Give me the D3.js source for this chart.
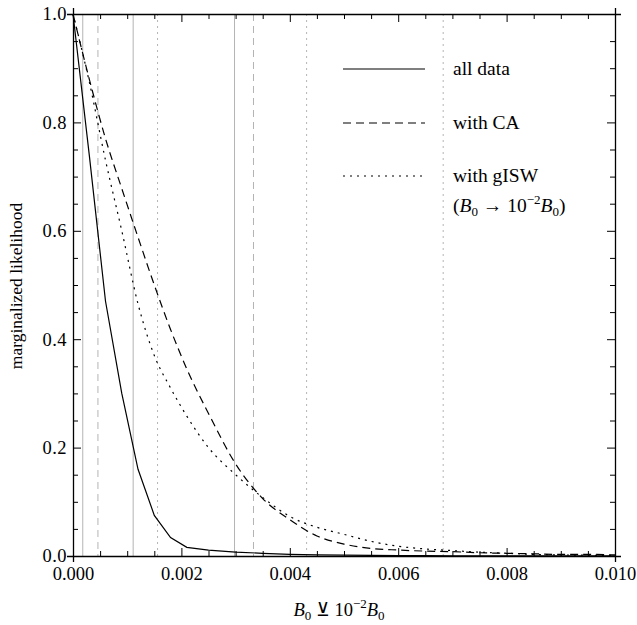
<!DOCTYPE html>
<html>
<head>
<meta charset="utf-8">
<script src="https://cdn.jsdelivr.net/npm/d3@7"></script>
<style>
  body { margin: 0; background: #fff; }
  text { font-family: "Liberation Serif", "Times New Roman", serif; fill: #000; }
</style>
</head>
<body>
<div id="chart"></div>
<script>
// Chart size and plot area
var svgWidth = 637;
var svgHeight = 625;
var margin = {top: 14, right: 22, bottom: 69, left: 73};
var width = svgWidth - margin.left - margin.right;
var height = svgHeight - margin.top - margin.bottom;

// Data
var xs        = [0, 0.0003, 0.0006, 0.0009, 0.0012, 0.0015, 0.0018, 0.0021, 0.0025, 0.003, 0.0035, 0.004,
                 0.0045, 0.005, 0.0055, 0.006, 0.0065, 0.007, 0.0075, 0.008, 0.0085, 0.009, 0.0095, 0.01];
var allData   = [1.0, 0.74, 0.47, 0.30, 0.16, 0.075, 0.034, 0.016, 0.011, 0.007, 0.005, 0.003,
                 0.002, 0.0015, 0.001, 0.0008, 0.0006, 0.0005, 0.0004, 0.0003, 0.0002, 0.0002, 0.0001, 0.0001];
var withCA    = [1.0, 0.88, 0.77, 0.678, 0.588, 0.50, 0.418, 0.345, 0.263, 0.170, 0.106, 0.067,
                 0.037, 0.022, 0.014, 0.011, 0.009, 0.008, 0.006, 0.005, 0.004, 0.003, 0.003, 0.002];
var withGISW  = [1.0, 0.875, 0.73, 0.60, 0.465, 0.37, 0.31, 0.258, 0.20, 0.15, 0.108, 0.073,
                 0.053, 0.040, 0.027, 0.018, 0.013, 0.010, 0.007, 0.005, 0.003, 0.002, 0.0015, 0.001];

// vertical reference lines (gray)
var solidMarks  = [0.00018, 0.00111, 0.00298];
var dashedMarks = [0.00046, 0.00333];
var dottedMarks = [0.00156, 0.00431, 0.00683];

var xTicks = [0, 0.002, 0.004, 0.006, 0.008, 0.01];
var yTicks = [0, 0.2, 0.4, 0.6, 0.8, 1.0];
var legendLabels = ["all data", "with CA", "with gISW"];

var svg = d3.select("#chart").append("svg")
  .attr("width", svgWidth).attr("height", svgHeight);

var chartGroup = svg.append("g")
  .attr("transform", `translate(${margin.left}, ${margin.top})`);

var xScale = d3.scaleLinear().domain([0, 0.01]).range([0, width]);
var yScale = d3.scaleLinear().domain([0, 1]).range([height, 0]);

// gray vertical lines
function drawMarks(vals, dash) {
  chartGroup.selectAll(null).data(vals).enter().append("line")
    .attr("x1", d => xScale(d)).attr("x2", d => xScale(d))
    .attr("y1", 0).attr("y2", height)
    .attr("stroke", "#b4b4b4").attr("stroke-width", 1)
    .attr("stroke-dasharray", dash);
}
drawMarks(solidMarks, null);
drawMarks(dashedMarks, "7,5");
drawMarks(dottedMarks, "2,4");

// curves
var series = [
  {vals: allData, dash: null},
  {vals: withCA, dash: "8,5"},
  {vals: withGISW, dash: "2,5"}
];
var line = d3.line()
  .x((d, i) => xScale(xs[i]))
  .y(d => yScale(d));

series.forEach(function(s, k) {
  chartGroup.append("path")
    .datum(s.vals)
    .attr("d", k === 0 ? line.curve(d3.curveLinear)(s.vals) : line.curve(d3.curveMonotoneX)(s.vals))
    .attr("fill", "none").attr("stroke", "#000").attr("stroke-width", 1.2)
    .attr("stroke-dasharray", s.dash);
});

// axes with inward ticks on all four sides
var minorX = d3.range(0, 0.01 + 1e-9, 0.0005);
var minorY = d3.range(0, 1 + 1e-9, 0.05);

function tickLen(v, step) {
  return Math.abs(v / step - Math.round(v / step)) < 1e-6 ? 8 : 5;
}

var xAxis = d3.axisBottom(xScale).tickValues(minorX)
  .tickFormat(d => xTicks.some(t => Math.abs(t - d) < 1e-9) ? d3.format(".3f")(d) : "");
var xAxisDraw = chartGroup.append("g")
  .attr("transform", `translate(0, ${height})`)
  .call(xAxis);
xAxisDraw.selectAll(".tick line").attr("y2", d => -tickLen(d, 0.002));
xAxisDraw.selectAll(".tick text").attr("y", 11).attr("font-size", "18.5px");

var xTop = chartGroup.append("g").call(d3.axisTop(xScale).tickValues(minorX).tickFormat(""));
xTop.selectAll(".tick line").attr("y2", d => tickLen(d, 0.002));

var yAxis = d3.axisLeft(yScale).tickValues(minorY)
  .tickFormat(d => yTicks.some(t => Math.abs(t - d) < 1e-9) ? d3.format(".1f")(d) : "");
var yAxisDraw = chartGroup.append("g").call(yAxis);
yAxisDraw.selectAll(".tick line").attr("x2", d => tickLen(d, 0.2));
yAxisDraw.selectAll(".tick text").attr("x", -6).attr("font-size", "18.5px")
  .attr("letter-spacing", "0.5px");

var yRight = chartGroup.append("g")
  .attr("transform", `translate(${width}, 0)`)
  .call(d3.axisRight(yScale).tickValues(minorY).tickFormat(""));
yRight.selectAll(".tick line").attr("x2", d => -tickLen(d, 0.2));

chartGroup.selectAll(".domain").attr("stroke", "#000").attr("stroke-width", 1.3);
chartGroup.selectAll(".tick line").attr("stroke", "#000").attr("stroke-width", 1);
chartGroup.selectAll(".tick text").attr("font-family", "Liberation Serif").attr("fill", "#000");

// legend
var legendY = [69, 123, 176];
var legend = svg.append("g");
series.forEach(function(s, k) {
  legend.append("line")
    .attr("x1", 343).attr("x2", 425)
    .attr("y1", legendY[k]).attr("y2", legendY[k])
    .attr("stroke", "#000").attr("stroke-width", 1.2)
    .attr("stroke-dasharray", s.dash);
  legend.append("text")
    .attr("x", 453).attr("y", legendY[k] + 6)
    .attr("font-size", "19.5px")
    .text(legendLabels[k]);
});
var sub = legend.append("text").attr("x", 453).attr("y", 212).attr("font-size", "19.5px");
sub.append("tspan").text("(");
sub.append("tspan").attr("font-style", "italic").text("B");
sub.append("tspan").attr("font-size", "13px").attr("dy", 4).text("0");
sub.append("tspan").attr("dy", -4).text(" \u2192 10");
sub.append("tspan").attr("font-size", "13px").attr("dy", -8).text("\u22122");
sub.append("tspan").attr("font-style", "italic").attr("dy", 8).text("B");
sub.append("tspan").attr("font-size", "13px").attr("dy", 4).text("0");
sub.append("tspan").attr("dy", -4).text(")");

// axis titles
svg.append("text")
  .attr("transform", "translate(22, 286) rotate(-90)")
  .attr("text-anchor", "middle")
  .attr("font-size", "17.5px")
  .text("marginalized likelihood");

var xl = svg.append("text").attr("x", 339).attr("y", 616)
  .attr("text-anchor", "middle").attr("font-size", "18.5px");
xl.append("tspan").attr("font-style", "italic").text("B");
xl.append("tspan").attr("font-size", "13px").attr("dy", 4).text("0");
xl.append("tspan").attr("dy", -4).text("  \u22BB  10");
xl.append("tspan").attr("font-size", "13px").attr("dy", -8).text("\u22122");
xl.append("tspan").attr("font-style", "italic").attr("dy", 8).text("B");
xl.append("tspan").attr("font-size", "13px").attr("dy", 4).text("0");
</script>
</body>
</html>
